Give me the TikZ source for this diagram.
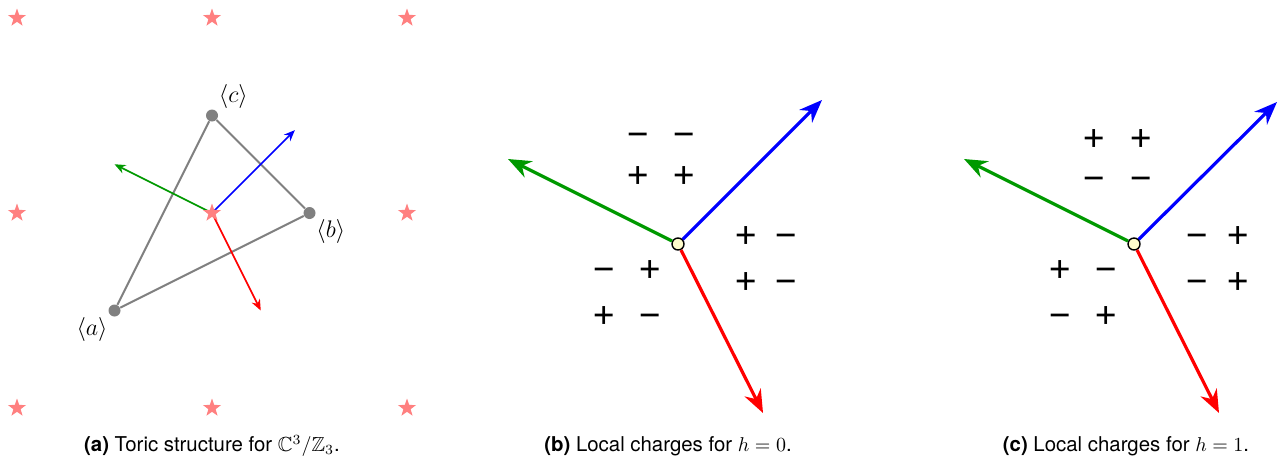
\documentclass[tikz,border=0pt]{standalone}
\usepackage{amsmath,amssymb}
\usepackage{fontspec}
\setsansfont{TeX Gyre Heros}
\usetikzlibrary{positioning,arrows.meta,shapes.geometric}

\begin{document}
\begin{tikzpicture}[
    x=0.5pt, y=-0.5pt,
    latstar/.style={star, star points=5, star point ratio=2.5, fill=red!50,
                    inner sep=0pt, minimum size=9.5pt},
    vtx/.style={circle, fill=gray, inner sep=0pt, minimum size=6pt},
    edge/.style={gray, line width=1pt},
    thinarrow/.style={-{Stealth[length=5.5pt,width=4.5pt]}, line width=0.8pt},
    bigarrow/.style={-{Stealth[length=11.5pt,width=9pt]}, line width=1.6pt},
    origin/.style={circle, draw, fill=yellow!20, inner sep=0pt,
                   minimum size=6pt, line width=0.7pt},
    chg/.style={font=\sffamily\fontsize{20}{20}\selectfont, inner sep=0pt,
                text height=0.7em, text depth=0pt},
    capt/.style={font=\sffamily\fontsize{10.2}{12}\selectfont},
    vlabel/.style={font=\large, inner sep=1pt},
]
\useasboundingbox (0,0) rectangle (1277,467);

% =============================================
% (a) Toric structure
% =============================================
\begin{scope}[shift={(212,213)}, x=48.75pt, y=48.75pt]
\coordinate (o) at (0,0);
\node[vtx, label={[vlabel]below left:$\langle a\rangle$}] (a) at (-1,-1) {};
\node[vtx, label={[vlabel]below right:$\langle b\rangle$}] (b) at (1,0) {};
\node[vtx, label={[vlabel]above right:$\langle c\rangle$}] (c) at (0,1) {};
\draw[edge] (a) -- (b) -- (c) -- (a);

\coordinate (ng) at (-1,0.5);
\coordinate (nb) at (0.85,0.85);
\coordinate (nr) at (0.5,-1);
\draw[thinarrow, green!60!black] (o) -- (ng);
\draw[thinarrow, blue] (o) -- (nb);
\draw[thinarrow, red] (o) -- (nr);

% lattice points
\foreach \i/\m in {-2/l,0/m,2/r}
  \foreach \j/\n in {-2/b,0/m,2/t}
    \node[latstar] (s\m\n) at (\i,\j) {};
\end{scope}

\node[capt] (capa) at (212,446)
    {\textbf{(a)} Toric structure for $\mathbb{C}^3/\mathbb{Z}_3$.};

% =============================================
% (b) h = 0
% =============================================
\begin{scope}[shift={(678,244)}]
\node[origin] (vb) at (0,0) {};
\coordinate (bg) at (-170,-85);
\coordinate (bb) at (144,-144);
\coordinate (br) at (85,169);
\draw[bigarrow, green!60!black] (vb) -- (bg);
\draw[bigarrow, blue] (vb) -- (bb);
\draw[bigarrow, red] (vb) -- (br);

\foreach \x/\y/\s [count=\k] in {-40/-107/−, 6/-107/−, -40/-66/+, 6/-66/+,
    68/-6/+, 108/-6/−, 68/40/+, 108/40/−,
    -74/28/−, -28/28/+, -74/74/+, -28/74/−}
  \node[chg] (qb\k) at (\x,\y) {\s};
\end{scope}

\node[capt] (capb) at (668,446) {\textbf{(b)} Local charges for $h=0$.};

% =============================================
% (c) h = 1
% =============================================
\begin{scope}[shift={(1134,244)}]
\node[origin] (vc) at (0,0) {};
\coordinate (cg) at (-170,-85);
\coordinate (cb) at (143,-142);
\coordinate (cr) at (85,169);
\draw[bigarrow, green!60!black] (vc) -- (cg);
\draw[bigarrow, blue] (vc) -- (cb);
\draw[bigarrow, red] (vc) -- (cr);

\foreach \x/\y/\s [count=\k] in {-40/-103/+, 7/-103/+, -40/-63/−, 7/-63/−,
    63/-6/−, 104/-6/+, 63/40/−, 104/40/+,
    -74/28/+, -28/28/−, -74/74/−, -28/74/+}
  \node[chg] (qc\k) at (\x,\y) {\s};
\end{scope}

\node[capt] (capc) at (1126,446) {\textbf{(c)} Local charges for $h=1$.};

\end{tikzpicture}
\end{document}
